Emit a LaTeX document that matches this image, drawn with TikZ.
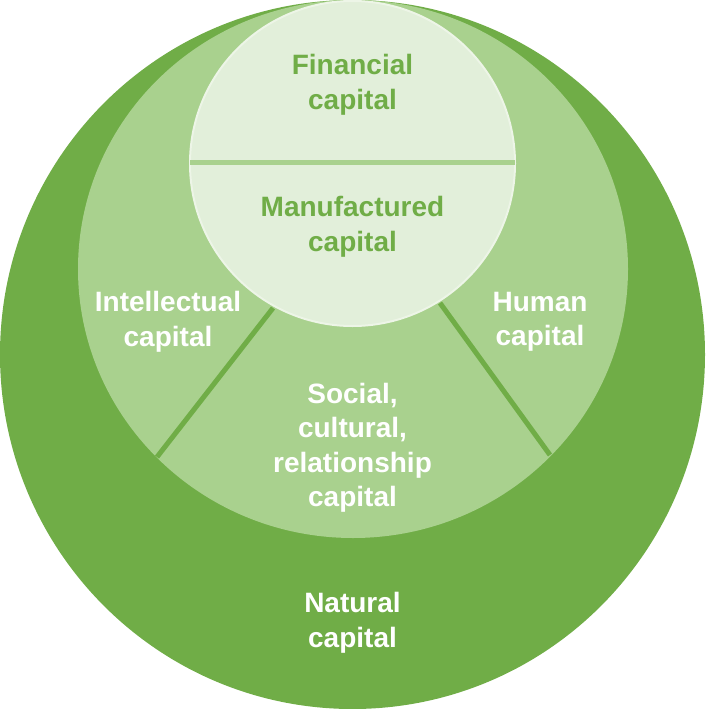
\documentclass[tikz,border=0pt]{standalone}
\usepackage{fontspec}
\setmainfont{Liberation Sans}
\usepackage{xcolor}
\definecolor{outergreen}{HTML}{70AD47}
\definecolor{midgreen}{HTML}{A9D18E}
\definecolor{innergreen}{HTML}{E2EFDA}
\definecolor{rimgreen}{HTML}{EDF5E7}

\begin{document}
\begin{tikzpicture}[x=1pt, y=-1pt,
    darklabel/.style={font=\bfseries\fontsize{28}{34.5}\selectfont, text=outergreen, align=center},
    lightlabel/.style={font=\bfseries\fontsize{28}{34.5}\selectfont, text=white, align=center},
    divider/.style={outergreen, line width=5pt}]
    \useasboundingbox (0,0) rectangle (705,709);

    % Natural capital
    \fill[outergreen] (352.5,354.5) ellipse [x radius=352.5pt, y radius=354.5pt];

    % Human, social, intellectual ring
    \fill[midgreen] (353,269) ellipse [x radius=275pt, y radius=269pt];

    % Financial and manufactured
    \filldraw[fill=innergreen, draw=rimgreen, line width=2pt] (352.5,163.5) circle [radius=162.5pt];
    \coordinate (cutL) at (190,162.5);
    \coordinate (cutR) at (515,162.5);
    \draw[midgreen, line width=5pt] (cutL) -- (cutR);

    % Dividers
    \coordinate (divLa) at (273,308);
    \coordinate (divLb) at (157,457);
    \coordinate (divRa) at (440,303);
    \coordinate (divRb) at (550,455);
    \draw[divider] (divLa) -- (divLb);
    \draw[divider] (divRa) -- (divRb);

    % Labels
    \node[darklabel] (financial) at (352.5,85) {Financial\\capital};
    \node[darklabel] (manufactured) at (352.5,227) {Manufactured\\capital};
    \node[lightlabel] (intellectual) at (168,322) {Intellectual\\capital};
    \node[lightlabel] (human) at (540,322) {Human\\capital};
    \node[lightlabel] (social) at (352.5,448) {Social,\\cultural,\\relationship\\capital};
    \node[lightlabel] (natural) at (352.5,623) {Natural\\capital};
\end{tikzpicture}
\end{document}
